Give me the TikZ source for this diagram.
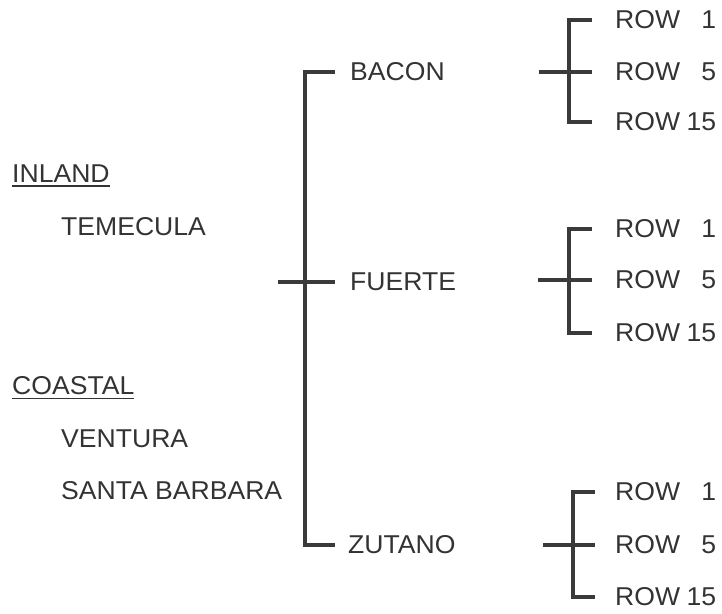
\documentclass[tikz,border=0pt]{standalone}
\usepackage{fontspec}
\setmainfont[FakeStretch=1.03]{Liberation Sans}
\definecolor{ink}{HTML}{3A3A3A}
\definecolor{txt}{HTML}{333333}
\begin{document}
\begin{tikzpicture}[x=1pt,y=-1pt,
  lbl/.style={anchor=west,inner sep=0pt,text=txt,font=\fontsize{25.8}{26}\selectfont},
  rowlbl/.style={lbl,text width=101pt,align=left},
  br/.style={draw=ink,line width=4.5pt,line cap=butt,line join=miter},
  ul/.style={draw=txt,line width=1.5pt}]
\useasboundingbox (0,0) rectangle (722,613);

% left labels
\node[lbl] (inland) at (12,174) {INLAND};
\node[lbl] (temecula) at (61,227) {TEMECULA};
\node[lbl] (coastal) at (12,386) {COASTAL};
\node[lbl] (ventura) at (61,439) {VENTURA};
\node[lbl] (santab) at (61,491) {SANTA BARBARA};
\draw[ul] ([yshift=-3pt]inland.south west) -- ([yshift=-3pt]inland.south east);
\draw[ul] ([yshift=-3pt]coastal.south west) -- ([yshift=-3pt]coastal.south east);

% varieties
\node[lbl] (bacon) at (350,72) {BACON};
\node[lbl] (fuerte) at (350,282) {FUERTE};
\node[lbl] (zutano) at (348,545) {ZUTANO};

% rows
\node[rowlbl] (r11) at (615,20) {ROW\hfill 1};
\node[rowlbl] (r15) at (615,72) {ROW\hfill 5};
\node[rowlbl] (r115) at (615,122) {ROW\hfill 15};
\node[rowlbl] (r21) at (615,229) {ROW\hfill 1};
\node[rowlbl] (r25) at (615,280) {ROW\hfill 5};
\node[rowlbl] (r215) at (615,333) {ROW\hfill 15};
\node[rowlbl] (r31) at (615,492) {ROW\hfill 1};
\node[rowlbl] (r35) at (615,545) {ROW\hfill 5};
\node[rowlbl] (r315) at (615,597) {ROW\hfill 15};

% main bracket
\coordinate (mleft) at (278,282);
\draw[br] ([xshift=-15pt]bacon.west) -| ([xshift=-43pt]zutano.west) -- ([xshift=-13pt]zutano.west);
\draw[br] (mleft) -- ([xshift=-15pt]fuerte.west);

% row brackets
\coordinate (b1left) at (539,72);
\draw[br] ([xshift=-23pt]r11.west) -| ([xshift=-46pt]r115.west) -- ([xshift=-23pt]r115.west);
\draw[br] (b1left) -- ([xshift=-23pt]r15.west);

\coordinate (b2left) at (538,280);
\draw[br] ([xshift=-23pt]r21.west) -| ([xshift=-46pt]r215.west) -- ([xshift=-23pt]r215.west);
\draw[br] (b2left) -- ([xshift=-23pt]r25.west);

\coordinate (b3left) at (543,545);
\draw[br] ([xshift=-20pt]r31.west) -| ([xshift=-42pt]r315.west) -- ([xshift=-20pt]r315.west);
\draw[br] (b3left) -- ([xshift=-20pt]r35.west);
\end{tikzpicture}
\end{document}
